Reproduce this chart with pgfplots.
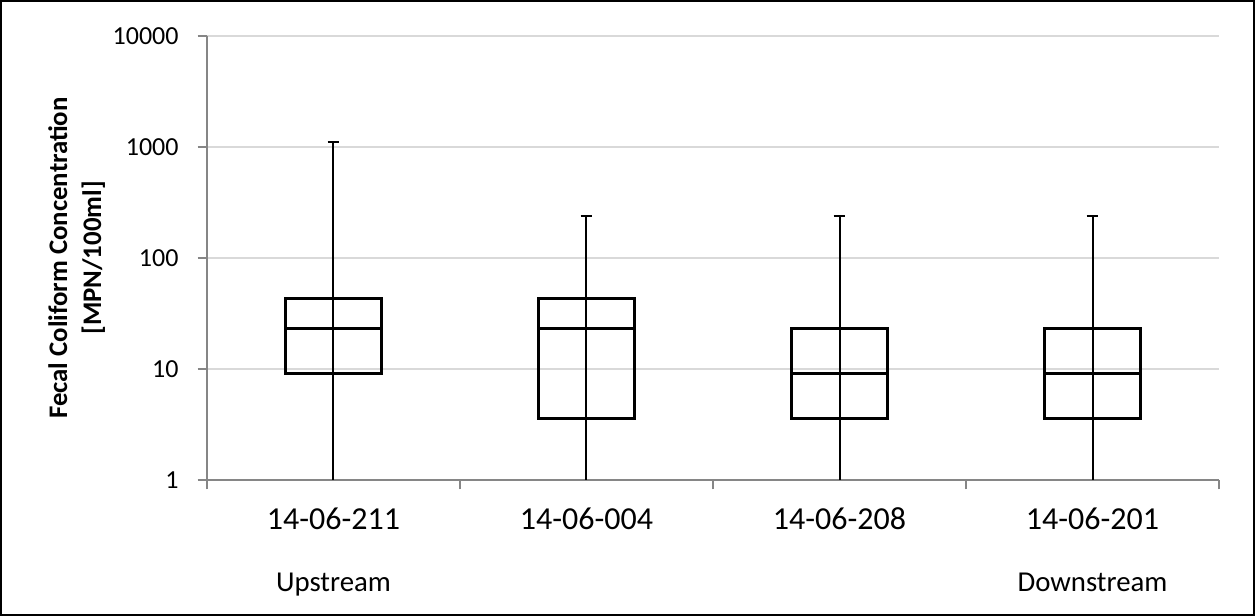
\documentclass[border=0pt]{standalone}
\usepackage{fontspec}
\setmainfont{Carlito}
\usepackage{pgfplots}
\pgfplotsset{compat=1.18}
\definecolor{axgray}{RGB}{134,134,134}
\definecolor{gridgray}{RGB}{217,217,217}

\begin{document}
\begin{tikzpicture}
\useasboundingbox (0,0) rectangle (627.5pt,308pt);
\draw[line width=1pt] (0.5pt,0.5pt) rectangle (627pt,307.5pt);
\begin{axis}[
  at={(103.5pt,68pt)}, anchor=south west,
  scale only axis, width=506pt, height=222pt,
  ymode=log, ymin=1, ymax=10000,
  xmin=-0.5, xmax=3.5,
  axis x line*=bottom, axis y line*=left,
  axis line style={axgray, line width=1pt},
  tick align=outside,
  major tick length=4.7pt,
  tick style={axgray, line width=1pt},
  ytick={1,10,100,1000,10000},
  yticklabels={1,10,100,1000,10000},
  yticklabel style={font=\fontsize{13}{15}\selectfont, anchor=east, xshift=-6pt},
  yminorticks=false,
  ymajorgrids, grid style={gridgray, line width=1pt},
  xtick={-0.5,0.5,1.5,2.5,3.5},
  xticklabels={,,,,},
  extra x ticks={0,1,2,3},
  extra x tick labels={14-06-211, 14-06-004, 14-06-208, 14-06-201},
  extra x tick style={major tick length=0pt, grid=none,
    xticklabel style={font=\fontsize{16}{19}\selectfont, anchor=base, yshift=-25pt}},
  clip=false,
]
% 14-06-211: min 1, Q1 9.1, median 23, Q3 43, max 1100
\addplot[black, line width=1pt] coordinates {(0,1) (0,1100)};
\addplot[black, line width=1pt] coordinates {(-0.0235,1100) (0.0235,1100)};
\addplot[black, line width=1.6pt] coordinates {(-0.19,9.1) (0.19,9.1) (0.19,43) (-0.19,43)} -- cycle;
\addplot[black, line width=1.6pt] coordinates {(-0.19,23) (0.19,23)};
% 14-06-004: min 1, Q1 3.6, median 23, Q3 43, max 240
\addplot[black, line width=1pt] coordinates {(1,1) (1,240)};
\addplot[black, line width=1pt] coordinates {(0.9765,240) (1.0235,240)};
\addplot[black, line width=1.6pt] coordinates {(0.81,3.6) (1.19,3.6) (1.19,43) (0.81,43)} -- cycle;
\addplot[black, line width=1.6pt] coordinates {(0.81,23) (1.19,23)};
% 14-06-208: min 1, Q1 3.6, median 9.1, Q3 23, max 240
\addplot[black, line width=1pt] coordinates {(2,1) (2,240)};
\addplot[black, line width=1pt] coordinates {(1.9765,240) (2.0235,240)};
\addplot[black, line width=1.6pt] coordinates {(1.81,3.6) (2.19,3.6) (2.19,23) (1.81,23)} -- cycle;
\addplot[black, line width=1.6pt] coordinates {(1.81,9.1) (2.19,9.1)};
% 14-06-201: min 1, Q1 3.6, median 9.1, Q3 23, max 240
\addplot[black, line width=1pt] coordinates {(3,1) (3,240)};
\addplot[black, line width=1pt] coordinates {(2.9765,240) (3.0235,240)};
\addplot[black, line width=1.6pt] coordinates {(2.81,3.6) (3.19,3.6) (3.19,23) (2.81,23)} -- cycle;
\addplot[black, line width=1.6pt] coordinates {(2.81,9.1) (3.19,9.1)};
% y axis title, two lines
\node[rotate=90, anchor=base, font=\fontsize{13.4}{16}\selectfont\bfseries]
  at (axis description cs:-0.1383,0.5) {Fecal Coliform Concentration};
\node[rotate=90, anchor=base, font=\fontsize{13.4}{16}\selectfont\bfseries]
  at (axis description cs:-0.1047,0.5) {[MPN/100ml]};
% site position notes
\node[font=\fontsize{14.4}{17}\selectfont, anchor=base, yshift=-56pt] at (axis cs:0,1) {Upstream};
\node[font=\fontsize{14.4}{17}\selectfont, anchor=base, yshift=-56pt] at (axis cs:3,1) {Downstream};
\end{axis}
\end{tikzpicture}
\end{document}
